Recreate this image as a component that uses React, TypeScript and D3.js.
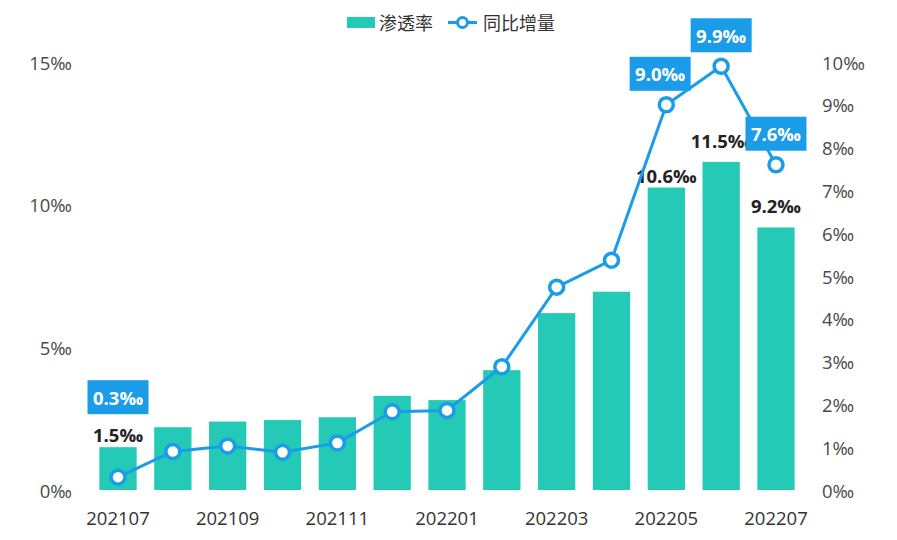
import React from "react";
import * as d3 from "d3";

const categories = ["202107","202108","202109","202110","202111","202112","202201","202202","202203","202204","202205","202206","202207"];
const penetration = [1.5, 2.2, 2.4, 2.45, 2.55, 3.3, 3.15, 4.2, 6.2, 6.95, 10.6, 11.5, 9.2];
const yoyGrowth = [0.3, 0.9, 1.03, 0.88, 1.1, 1.83, 1.86, 2.88, 4.74, 5.37, 9.0, 9.9, 7.6];
const leftTicks = [0, 5, 10, 15];
const rightTicks = [0, 1, 2, 3, 4, 5, 6, 7, 8, 9, 10];
const barLabelIdx = [0, 10, 11, 12];
const lineLabelIdx = [0, 10, 11, 12];
const seriesNames = ["渗透率", "同比增量"];

const W = 897, H = 540;
const BAR = "#24CAB6";
const BLUE = "#1B9CE9";
const FONT = "'Open Sans', 'Noto Sans CJK SC', sans-serif";
const FS = 18.5;

export default function App() {
  const x = d3.scaleBand<string>().domain(categories).range([90.6, 803.4]).paddingInner(0.32).paddingOuter(0.16);
  const yL = d3.scaleLinear().domain([0, 15]).range([490, 62]);
  const yR = d3.scaleLinear().domain([0, 10]).range([490, 62]);
  const cx = (c: string) => (x(c) as number) + x.bandwidth() / 2;
  const line = d3.line<number>().x((_, i) => cx(categories[i])).y((d) => yR(d));

  const bw = 61, bh = 34;
  // compute line label boxes, avoiding overlap with bar labels and neighbouring boxes
  const boxes = lineLabelIdx.map((i) => {
    const px = cx(categories[i]);
    const barTop = yL(penetration[i]);
    const bottom = Math.min(yR(yoyGrowth[i]) - 14, barTop - 33);
    return { i, left: px - bw / 2, bottom };
  });
  for (let k = boxes.length - 2; k >= 0; k--) {
    const a = boxes[k], b = boxes[k + 1];
    if (a.left + bw > b.left && a.left < b.left + bw && b.bottom < a.bottom && a.bottom - bh < b.bottom + 10) {
      a.left = b.left - bw;
    }
  }

  return (
    <svg width={W} height={H} style={{ position: "absolute", left: 0, top: 0, background: "#fff" }} fontFamily={FONT}>
      {/* legend */}
      <g>
        <rect x={347} y={17} width={28} height={11} fill={BAR} />
        <text x={379} y={22.5} dominantBaseline="central" fontSize={18} fill="#333">{seriesNames[0]}</text>
        <line x1={448} x2={477} y1={22.5} y2={22.5} stroke={BLUE} strokeWidth={3} />
        <circle cx={462.5} cy={22.5} r={5} fill="#fff" stroke={BLUE} strokeWidth={3} />
        <text x={483} y={22.5} dominantBaseline="central" fontSize={18} fill="#333">{seriesNames[1]}</text>
      </g>
      {/* left axis */}
      {leftTicks.map((t) => (
        <text key={"l" + t} x={72} y={yL(t)} textAnchor="end" dominantBaseline="central" fontSize={FS} fill="#4a4a4a">{t}‰</text>
      ))}
      {/* right axis */}
      {rightTicks.map((t) => (
        <text key={"r" + t} x={822} y={yR(t)} textAnchor="start" dominantBaseline="central" fontSize={FS} fill="#4a4a4a">{t}‰</text>
      ))}
      {/* x labels */}
      {categories.map((c, i) => i % 2 === 0 ? (
        <text key={"x" + c} x={cx(c)} y={517} textAnchor="middle" dominantBaseline="central" fontSize={FS} fill="#333">{c}</text>
      ) : null)}
      {/* bars */}
      {penetration.map((v, i) => (
        <rect key={"b" + i} x={x(categories[i])} y={yL(v)} width={x.bandwidth()} height={yL(0) - yL(v)} fill={BAR} />
      ))}
      {/* bar labels */}
      {barLabelIdx.map((i) => (
        <text key={"bl" + i} x={cx(categories[i])} y={yL(penetration[i]) - (i >= 11 ? 14 : 5)} textAnchor="middle" fontSize={FS} fontWeight="bold" fill="#222">{penetration[i].toFixed(1)}‰</text>
      ))}
      {/* line */}
      <path d={line(yoyGrowth) || ""} fill="none" stroke={BLUE} strokeWidth={3} />
      {yoyGrowth.map((v, i) => (
        <circle key={"c" + i} cx={cx(categories[i])} cy={yR(v)} r={7} fill="#fff" stroke={BLUE} strokeWidth={3.5} />
      ))}
      {/* line labels */}
      {boxes.map(({ i, left, bottom }) => (
        <g key={"ll" + i}>
          <rect x={left} y={bottom - bh} width={bw} height={bh} fill={BLUE} />
          <text x={left + bw / 2} y={bottom - bh / 2} textAnchor="middle" dominantBaseline="central" fontSize={FS} fontWeight="bold" fill="#fff">{yoyGrowth[i].toFixed(1)}‰</text>
        </g>
      ))}
    </svg>
  );
}
